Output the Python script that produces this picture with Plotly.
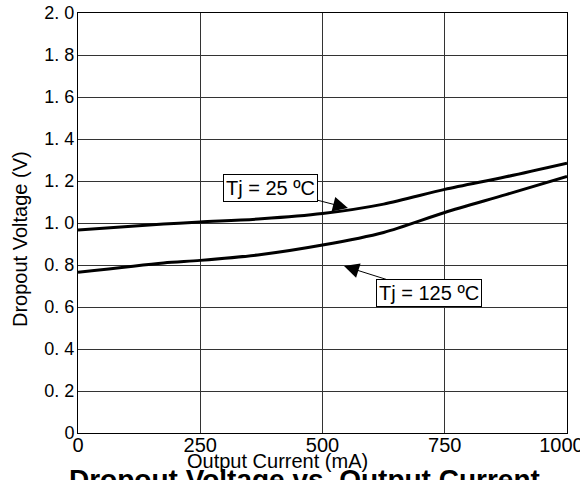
import plotly.graph_objects as go

current_ma = [0, 175, 250, 375, 500, 625, 750, 875, 1000]
v_tj25 = [0.967, 0.995, 1.005, 1.02, 1.045, 1.09, 1.16, 1.22, 1.285]
v_tj125 = [0.765, 0.81, 0.822, 0.85, 0.895, 0.955, 1.05, 1.135, 1.222]

y_tickvals = [0, 0.2, 0.4, 0.6, 0.8, 1.0, 1.2, 1.4, 1.6, 1.8, 2.0]
y_ticktext = ["0", "0. 2", "0. 4", "0. 6", "0. 8", "1. 0", "1. 2", "1. 4", "1. 6", "1. 8", "2. 0"]
x_tickvals = [0, 250, 500, 750, 1000]
x_ticktext = ["0", "250", "500", "750", "1000\u00a0\u00a0"]

FONT = "Liberation Sans, Arial, sans-serif"

# body margin is removed by post_script, so the figure starts at (0, 0)
W, H = 580, 480
# plot area in page pixels (from reference): x 78..567, y 13..433
L, R, T, B = 78, 580 - 567, 13, 480 - 433
PW, PH = W - L - R, H - T - B


def px_x(p):
    return (p - L) / PW


def px_y(p):
    return (H - B - p) / PH


fig = go.Figure()
fig.add_trace(go.Scatter(x=current_ma, y=v_tj25, mode="lines",
                         line=dict(color="black", width=3, shape="spline", smoothing=0.8),
                         showlegend=False, hoverinfo="skip"))
fig.add_trace(go.Scatter(x=current_ma, y=v_tj125, mode="lines",
                         line=dict(color="black", width=3, shape="spline", smoothing=0.8),
                         showlegend=False, hoverinfo="skip"))

ann_common = dict(showarrow=True, arrowhead=2, arrowsize=3, arrowwidth=1, arrowcolor="black",
                  bordercolor="black", borderwidth=1, bgcolor="white", borderpad=2,
                  font=dict(family=FONT, size=20, color="black"),
                  axref="x", ayref="y", xref="x", yref="y")
fig.add_annotation(text="Tj = 25 ºC", x=552, y=1.071, ax=393, ay=1.167, **ann_common)
fig.add_annotation(text="Tj = 125 ºC", x=544, y=0.795, ax=718, ay=0.667, **ann_common)

# axis titles
fig.add_annotation(text="Dropout Voltage (V)", xref="paper", yref="paper",
                   x=px_x(20), y=px_y(239), xanchor="center", yanchor="middle",
                   textangle=-90, showarrow=False,
                   font=dict(family=FONT, size=20, color="black"))
fig.add_annotation(text="Output Current (mA)", xref="paper", yref="paper",
                   x=px_x(277), y=px_y(448), xanchor="center", yanchor="top",
                   showarrow=False, font=dict(family=FONT, size=20, color="black"))
fig.add_annotation(text="<b>Dropout Voltage vs. Output Current</b>", xref="paper", yref="paper",
                   x=px_x(304), y=px_y(462), xanchor="center", yanchor="top", showarrow=False,
                   font=dict(family=FONT, size=28, color="black"))

fig.update_layout(
    width=W, height=H,
    margin=dict(l=L, r=R, t=T, b=B, autoexpand=False),
    paper_bgcolor="white", plot_bgcolor="white",
    font=dict(family=FONT, size=18, color="black"),
)
fig.update_xaxes(range=[0, 1000], tickvals=x_tickvals, ticktext=x_ticktext,
                 tickfont=dict(family=FONT, size=20), automargin=False,
                 ticklabeloverflow="allow",
                 showgrid=True, gridcolor="#333333", gridwidth=1,
                 showline=True, linecolor="black", linewidth=1, mirror=True,
                 ticks="", zeroline=False, ticklabelstandoff=-6)
fig.update_yaxes(range=[0, 2.0], tickvals=y_tickvals, ticktext=y_ticktext,
                 tickfont=dict(family=FONT, size=18), automargin=False,
                 ticklabeloverflow="allow",
                 showgrid=True, gridcolor="#333333", gridwidth=1,
                 showline=True, linecolor="black", linewidth=1, mirror=True,
                 ticks="", zeroline=False, ticklabelstandoff=-1)

fig.write_html("out.html", config={"displayModeBar": False},
               post_script="document.body.style.margin='0';document.body.style.overflow='hidden';")
